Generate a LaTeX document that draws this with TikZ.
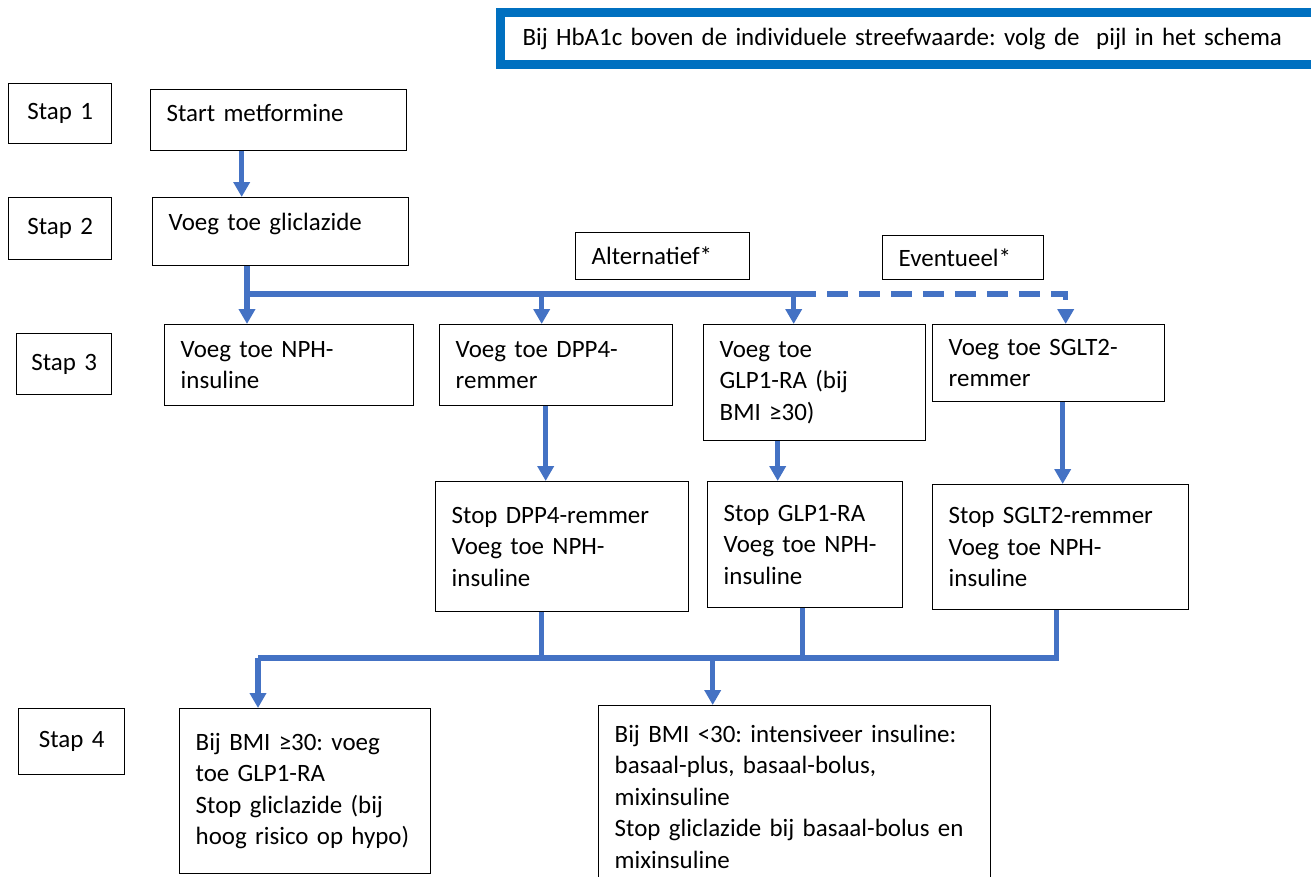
\documentclass[tikz,border=0pt]{standalone}
\usepackage{fontspec}
\setmainfont{Carlito}
\usetikzlibrary{arrows.meta, positioning, calc}
\frenchspacing
\hyphenpenalty=10000
\newcommand{\boxfont}{\fontsize{14.2}{17.9}\selectfont\spaceskip=0.2em\relax}

\definecolor{flowblue}{HTML}{4472C4}
\definecolor{bannerblue}{HTML}{0070C0}

\begin{document}
\begin{tikzpicture}[
    x=0.02cm, y=-0.02cm,
    >={Triangle[width=0.32cm, length=0.3cm]},
    box/.style={draw, line width=0.8pt, anchor=north west, align=left,
                inner xsep=0.32cm, inner ysep=2pt, font=\boxfont},
    stapbox/.style={box, align=center, inner xsep=0pt},
    lift/.style={text depth=#1},
    line/.style={draw=flowblue, line width=3pt},
    flow/.style={line, ->}
  ]
  \path[use as bounding box, clip] (0,0) rectangle (1311,876);

  % Banner
  \node[draw=bannerblue, line width=0.18cm, anchor=north west, align=left,
        inner xsep=0.44cm, inner ysep=0pt, text width=16.3cm,
        minimum height=1.04cm, font=\boxfont] (banner) at (496,8)
    {Bij HbA1c boven de individuele streefwaarde: volg de\ \ pijl in het schema};

  % Step labels
  \node[stapbox, text width=2.06cm, minimum height=1.2cm]  (stap1) at (8,83)   {Stap 1};
  \node[stapbox, text width=2.06cm, minimum height=1.24cm] (stap2) at (8,197)  {Stap 2};
  \node[stapbox, text width=1.9cm,  minimum height=1.22cm] (stap3) at (16,333) {Stap 3};
  \node[stapbox, text width=2.12cm, minimum height=1.32cm] (stap4) at (18,708) {Stap 4};

  % Stap 1 and 2
  \node[box, lift=0.28cm, text width=4.48cm, minimum height=1.22cm] (metformine) at (150,89)
    {Start metformine};
  \node[box, lift=0.39cm, text width=4.48cm, minimum height=1.36cm] (gliclazide) at (152,197)
    {Voeg toe gliclazide};

  % Options
  \node[box, text width=2.84cm, minimum height=0.94cm] (alternatief) at (575,232)
    {Alternatief*};
  \node[box, text width=2.58cm, minimum height=0.88cm] (eventueel) at (882,235)
    {Eventueel*};

  % Stap 3
  \node[box, text width=4.34cm, minimum height=1.62cm] (nph) at (164,324)
    {Voeg toe NPH-\\insuline};
  \node[box, text width=4.02cm, minimum height=1.62cm] (dpp4) at (439,324)
    {Voeg toe DPP4-\\remmer};
  \node[box, text width=3.8cm, minimum height=2.32cm] (glp1) at (703,324)
    {Voeg toe\\GLP1-RA (bij\\BMI ≥30)};
  \node[box, text width=4.0cm, minimum height=1.54cm] (sglt2) at (932,324)
    {Voeg toe SGLT2-\\remmer};

  % Switch to insulin
  \node[box, text width=4.42cm, minimum height=2.6cm] (stopdpp4) at (435,481)
    {Stop DPP4-remmer\\Voeg toe NPH-\\insuline};
  \node[box, text width=3.26cm, minimum height=2.52cm] (stopglp1) at (707,481)
    {Stop GLP1-RA\\Voeg toe NPH-\\insuline};
  \node[box, text width=4.48cm, minimum height=2.5cm] (stopsglt2) at (932,484)
    {Stop SGLT2-remmer\\Voeg toe NPH-\\insuline};

  % Stap 4
  \node[box, text width=4.38cm, minimum height=3.3cm] (bmihoog) at (179,708)
    {Bij BMI ≥30: voeg\\toe GLP1-RA\\Stop gliclazide (bij\\hoog risico op hypo)};
  \node[box, text width=7.2cm, minimum height=3.64cm] (bmilaag) at (598,705)
    {Bij BMI <30: intensiveer insuline:\\basaal-plus, basaal-bolus,\\mixinsuline\\Stop gliclazide bij basaal-bolus en\\mixinsuline};

  % Arrows stap 1 to 3
  \draw[flow] ([xshift=-0.74cm]metformine.south) -- ([xshift=-0.74cm]metformine.south |- gliclazide.north);
  \coordinate (bus) at (247,294);
  \coordinate (dashstart) at (795,294);
  \draw[flow] (gliclazide.south -| bus) -- (nph.north -| bus);
  \draw[line] (bus) -- (dashstart);
  \draw[flow] ([xshift=-0.29cm]dpp4.north |- bus) -- ([xshift=-0.29cm]dpp4.north);
  \draw[flow] ([xshift=-0.42cm]glp1.north |- bus) -- ([xshift=-0.42cm]glp1.north);
  \draw[flow, dash pattern=on 0.42cm off 0.22cm] (dashstart) -| ([xshift=0.34cm]sglt2.north);

  % Arrows to stop boxes
  \draw[flow] ([xshift=-0.21cm]dpp4.south) -- ([xshift=-0.21cm]dpp4.south |- stopdpp4.north);
  \draw[flow] ([xshift=-0.74cm]glp1.south) -- ([xshift=-0.74cm]glp1.south |- stopglp1.north);
  \draw[flow] ([xshift=0.28cm]sglt2.south) -- ([xshift=0.28cm]sglt2.south |- stopsglt2.north);

  % Arrows to stap 4
  \coordinate (join) at (258,658);
  \draw[line] ([xshift=-0.41cm]stopdpp4.south) -- ([xshift=-0.41cm]stopdpp4.south |- join);
  \draw[line] ([xshift=-0.05cm]stopglp1.south) -- ([xshift=-0.05cm]stopglp1.south |- join);
  \draw[line] ([xshift=-0.08cm]stopsglt2.south) |- (join);
  \draw[flow] (join) -- (join |- bmihoog.north);
  \draw[flow] ([xshift=-1.64cm]bmilaag.north |- join) -- ([xshift=-1.64cm]bmilaag.north);
\end{tikzpicture}
\end{document}
